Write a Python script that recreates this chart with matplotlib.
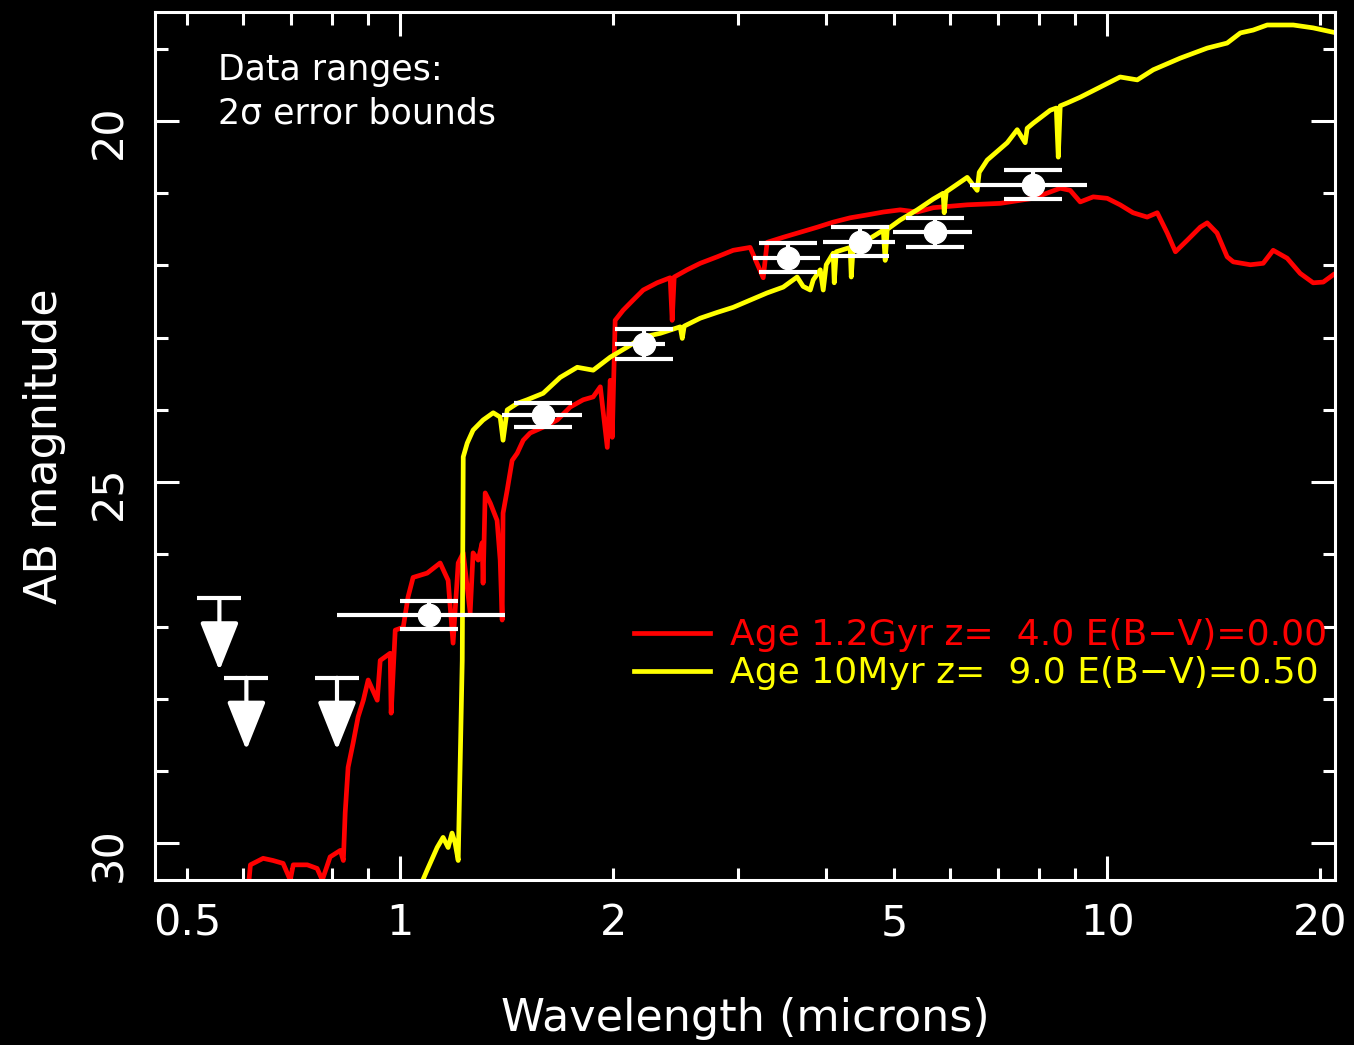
import numpy as np
import matplotlib
matplotlib.use('Agg')
import matplotlib.pyplot as plt
from matplotlib.ticker import LogLocator, FuncFormatter, MultipleLocator

plt.rcParams['font.family'] = ['DejaVu Sans']

# model SED 1: 1.2 Gyr, z=4 (red)
red_wave = [0.610, 0.614, 0.640, 0.661, 0.683, 0.699, 0.706, 0.739, 0.763, 0.776,
            0.796, 0.823, 0.831, 0.836, 0.844, 0.858, 0.872, 0.887, 0.901, 0.928,
            0.937, 0.968, 0.971, 0.984, 1.010, 1.026, 1.043, 1.092, 1.139, 1.169,
            1.188, 1.208, 1.228, 1.256, 1.268, 1.289, 1.306, 1.310, 1.319, 1.341,
            1.371, 1.385, 1.394, 1.398, 1.417, 1.440, 1.464, 1.493, 1.527, 1.593,
            1.668, 1.740, 1.815, 1.875, 1.919, 1.963, 1.982, 1.995, 2.014, 2.067,
            2.135, 2.207, 2.309, 2.409, 2.425, 2.441, 2.546, 2.657, 2.808, 2.958,
            3.126, 3.262, 3.304, 3.481, 3.680, 3.890, 4.097, 4.330, 4.576, 4.823,
            5.096, 5.386, 5.675, 6.339, 7.060, 7.859, 8.582, 8.866, 9.159, 9.554,
            10.00, 10.43, 10.88, 11.39, 11.77, 12.16, 12.49, 12.98, 13.54, 13.85,
            14.30, 14.78, 15.08, 15.94, 16.62, 17.17, 17.97, 18.75, 19.56, 20.21,
            20.87]
red_mag = [30.60, 30.30, 30.21, 30.24, 30.28, 30.51, 30.30, 30.30, 30.35, 30.51,
           30.19, 30.10, 30.24, 29.58, 28.95, 28.61, 28.25, 28.02, 27.74, 28.02,
           27.47, 27.37, 28.20, 27.05, 27.01, 26.59, 26.32, 26.26, 26.12, 26.36,
           27.23, 26.12, 25.98, 26.81, 25.98, 26.08, 25.84, 26.40, 25.15, 25.29,
           25.53, 26.08, 26.91, 25.43, 25.11, 24.70, 24.60, 24.42, 24.32, 24.24,
           24.14, 23.96, 23.86, 23.82, 23.68, 24.52, 23.59, 24.38, 22.76, 22.62,
           22.48, 22.34, 22.24, 22.17, 22.76, 22.16, 22.06, 21.97, 21.88, 21.79,
           21.75, 22.17, 21.68, 21.61, 21.54, 21.47, 21.40, 21.34, 21.30, 21.26,
           21.23, 21.26, 21.20, 21.16, 21.14, 21.07, 20.93, 20.96, 21.12, 21.05,
           21.07, 21.16, 21.27, 21.33, 21.27, 21.55, 21.81, 21.65, 21.47, 21.41,
           21.55, 21.88, 21.95, 21.99, 21.97, 21.79, 21.90, 22.11, 22.24, 22.23,
           22.13]

# model SED 2: 10 Myr, z=9 (yellow)
yel_wave = [1.067, 1.092, 1.128, 1.150, 1.169, 1.184, 1.196, 1.208, 1.216, 1.224,
            1.228, 1.244, 1.268, 1.310, 1.354, 1.385, 1.398, 1.417, 1.464, 1.512,
            1.593, 1.684, 1.780, 1.875, 1.982, 2.095, 2.207, 2.332, 2.489, 2.506,
            2.522, 2.657, 2.808, 2.958, 3.126, 3.304, 3.481, 3.643, 3.715, 3.802,
            3.839, 3.928, 3.966, 4.005, 4.097, 4.111, 4.138, 4.330, 4.345, 4.373,
            4.576, 4.823, 4.853, 4.885, 5.096, 5.386, 5.675, 5.861, 5.881, 5.920,
            6.339, 6.548, 6.592, 6.766, 7.222, 7.460, 7.656, 7.706, 7.859, 8.308,
            8.472, 8.527, 8.582, 8.779, 9.159, 9.775, 10.43, 11.03, 11.62, 12.68,
            13.85, 14.78, 15.43, 16.09, 16.84, 18.33, 19.56, 20.87]
yel_mag = [30.60, 30.37, 30.06, 29.92, 30.06, 29.86, 30.00, 30.24, 28.85, 27.47,
           24.65, 24.46, 24.28, 24.14, 24.04, 24.10, 24.42, 24.00, 23.91, 23.86,
           23.77, 23.55, 23.41, 23.45, 23.27, 23.13, 22.99, 22.94, 22.85, 23.01,
           22.84, 22.73, 22.65, 22.58, 22.48, 22.38, 22.30, 22.16, 22.29, 22.34,
           22.20, 22.06, 22.34, 21.99, 21.83, 22.24, 21.81, 21.75, 22.16, 21.73,
           21.65, 21.51, 21.93, 21.50, 21.37, 21.23, 21.08, 21.00, 21.27, 20.98,
           20.78, 20.96, 20.71, 20.54, 20.30, 20.12, 20.30, 20.10, 20.03, 19.85,
           19.82, 20.50, 19.79, 19.75, 19.67, 19.53, 19.39, 19.43, 19.29, 19.13,
           18.99, 18.92, 18.78, 18.74, 18.67, 18.67, 18.71, 18.77]

red_label = 'Age 1.2Gyr z=  4.0 E(B\u2212V)=0.00'
yel_label = 'Age 10Myr z=  9.0 E(B\u2212V)=0.50'

# photometry: detections with filter widths and mag errors
det_wave = [1.10, 1.59, 2.21, 3.54, 4.47, 5.71, 7.86]
det_lo = [0.814, 1.394, 2.014, 3.157, 3.966, 4.981, 6.402]
det_hi = [1.408, 1.809, 2.371, 3.930, 5.013, 6.445, 9.370]
det_mag = [26.84, 24.07, 23.09, 21.89, 21.67, 21.54, 20.88]
det_err = [0.20, 0.17, 0.21, 0.20, 0.20, 0.20, 0.20]

# upper limits
ul_wave = [0.555, 0.606, 0.814]
ul_mag = [26.61, 27.71, 27.71]

xtick_vals = [0.5, 1, 2, 5, 10, 20]

fig = plt.figure(figsize=(13.54, 10.45), dpi=100, facecolor='black')
ax = fig.add_axes([155/1354, 1 - 880/1045, 1180/1354, 868/1045])
ax.set_facecolor('black')

ax.plot(red_wave, red_mag, color='#ff0000', lw=3.4, label=red_label)
ax.plot(yel_wave, yel_mag, color='#ffff00', lw=3.4, label=yel_label)

xerr = [np.array(det_wave) - np.array(det_lo), np.array(det_hi) - np.array(det_wave)]
ax.errorbar(det_wave, det_mag, xerr=xerr, fmt='none', ecolor='white', elinewidth=3, capsize=0)
ax.errorbar(det_wave, det_mag, yerr=det_err, fmt='o', color='white', ms=16,
            elinewidth=3, capsize=21, capthick=3)

for uw, um in zip(ul_wave, ul_mag):
    ax.annotate('', xy=(uw, um + 1.0), xytext=(uw, um),
                arrowprops=dict(arrowstyle='-|>,head_length=30,head_width=12',
                                mutation_scale=1, color='white', lw=3,
                                shrinkA=0, shrinkB=0))
ax.plot(ul_wave, ul_mag, ls='none', marker='_', ms=32, mew=3, color='white')

ax.text(0.053, 0.953, 'Data ranges:\n2\u03c3 error bounds', transform=ax.transAxes,
        color='white', fontsize=25, va='top', ha='left', linespacing=1.35)

ax.set_xscale('log')
ax.set_xlim(0.450, 21.0)
ax.set_ylim(30.51, 18.49)

ax.xaxis.set_major_locator(LogLocator(base=10, subs=(1.0,)))
ax.xaxis.set_minor_locator(LogLocator(base=10, subs=np.arange(2, 10)))
fmt = FuncFormatter(lambda v, p: f'{v:g}' if np.any(np.isclose(v, xtick_vals)) else '')
ax.xaxis.set_major_formatter(fmt)
ax.xaxis.set_minor_formatter(fmt)
ax.yaxis.set_major_locator(MultipleLocator(5))
ax.yaxis.set_minor_locator(MultipleLocator(1))

ax.tick_params(which='both', direction='in', top=True, right=True, colors='white',
               width=2.2, labelsize=31, pad=16)
ax.tick_params(which='major', length=17)
ax.tick_params(which='minor', length=9)
ax.tick_params(axis='y', labelrotation=90, pad=18)
for s in ax.spines.values():
    s.set_color('white')
    s.set_linewidth(2.2)

ax.set_xlabel('Wavelength (microns)', color='white', fontsize=32, labelpad=38)
ax.set_ylabel('AB magnitude', color='white', fontsize=32, labelpad=16)

ax.legend(loc='center right', bbox_to_anchor=(0.993, 0.26), frameon=False,
          labelcolor='linecolor', fontsize=26, handlelength=2.1, handletextpad=0.55,
          borderaxespad=0, borderpad=0, labelspacing=0.12)

fig.savefig('out.png', dpi=100, facecolor='black')
